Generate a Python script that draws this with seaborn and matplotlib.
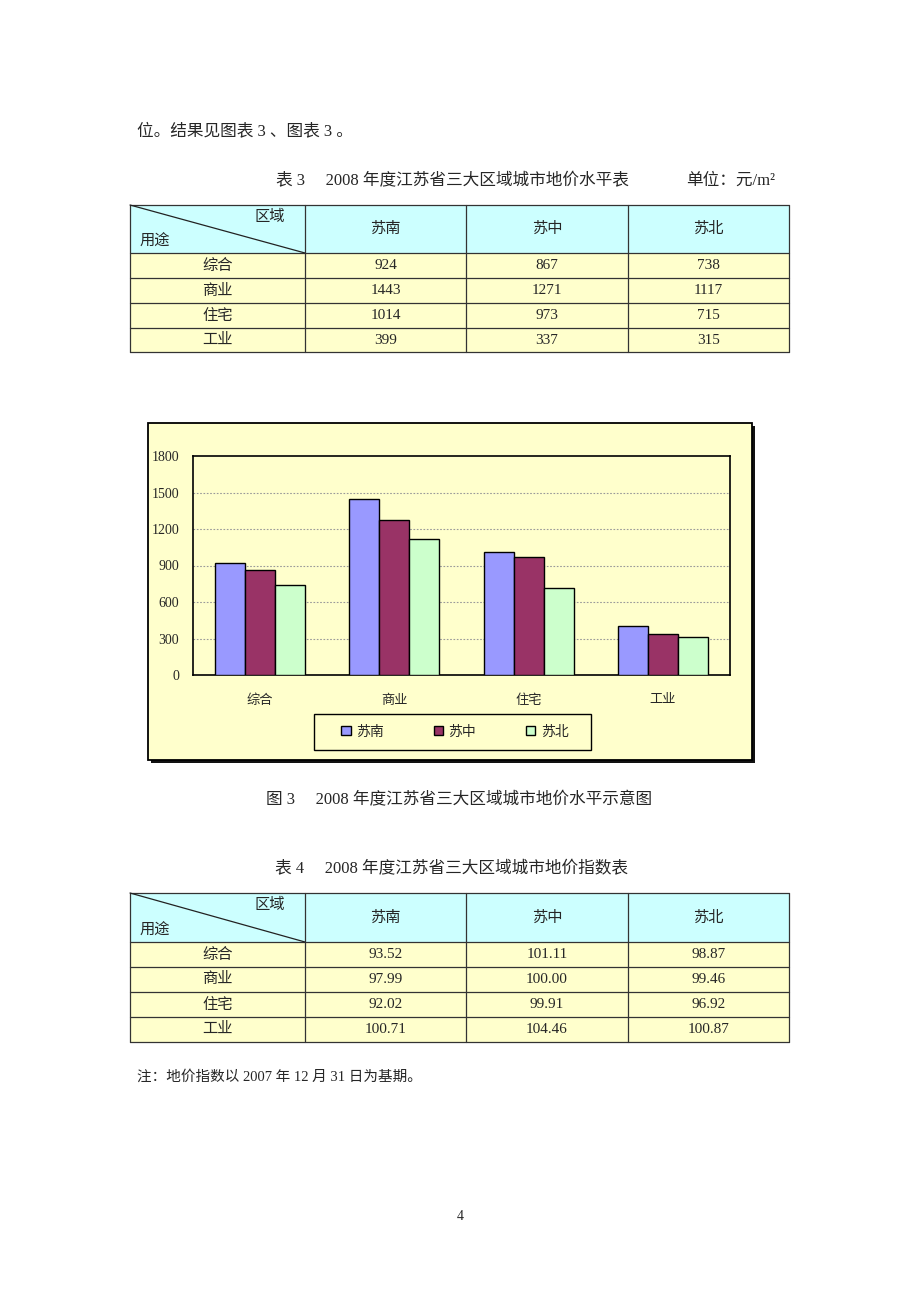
import matplotlib
matplotlib.use("Agg")
import matplotlib.pyplot as plt
from matplotlib.patches import Rectangle
from matplotlib.lines import Line2D
import seaborn as sns
import pandas as pd

# ---------------- data ----------------
categories = ["综合", "商业", "住宅", "工业"]
regions = ["苏南", "苏中", "苏北"]
price_sunan = [924, 1443, 1014, 399]
price_suzhong = [867, 1271, 973, 337]
price_subei = [738, 1117, 715, 315]
index_sunan = [93.52, 97.99, 92.02, 100.71]
index_suzhong = [101.11, 100.00, 99.91, 104.46]
index_subei = [98.87, 99.46, 96.92, 100.87]
y_ticks = [0, 300, 600, 900, 1200, 1500, 1800]
bar_colors = ["#9999FF", "#993366", "#CCFFCC"]

sns.set_style("white")
FAM = ["Liberation Serif", "Noto Sans CJK SC", "DejaVu Sans"]
plt.rcParams["font.family"] = FAM

W, H = 920, 1302
fig = plt.figure(figsize=(W / 100, H / 100), dpi=100)
fig.patch.set_facecolor("white")


def fx(x):
    return x / W


def fy(y):
    return 1 - y / H


def txt(x, y, s, size=11, ha="center", va="center", **kw):
    fig.text(fx(x), fy(y), s, fontsize=size, ha=ha, va=va, family=FAM, **kw)


def rect(x0, y0, x1, y1, fc, ec="none", lw=0.0, z=-1):
    r = Rectangle((fx(x0), fy(y1)), fx(x1) - fx(x0), fy(y0) - fy(y1),
                  transform=fig.transFigure, facecolor=fc, edgecolor=ec,
                  linewidth=lw, zorder=z)
    fig.add_artist(r)
    return r


def line(x0, y0, x1, y1, color="#333333", lw=0.9, z=1):
    fig.add_artist(Line2D([fx(x0), fx(x1)], [fy(y0), fy(y1)],
                          transform=fig.transFigure, color=color, lw=lw, zorder=z))


def draw_table(top, rows_y, values):
    cols = [130, 305, 466, 628, 789]
    hdr_bottom = rows_y[0]
    bottom = rows_y[-1]
    rect(cols[0], top, cols[-1], hdr_bottom, "#CCFFFF", z=0)
    rect(cols[0], hdr_bottom, cols[-1], bottom, "#FFFFCC", z=0)
    for x in cols:
        line(x, top, x, bottom)
    for y in [top] + rows_y:
        line(cols[0], y, cols[-1], y)
    line(cols[0], top, cols[1], hdr_bottom, color="#222222", lw=0.9)
    txt(270, top + 12, "区域")
    txt(155, hdr_bottom - 11, "用途")
    for i, r in enumerate(regions):
        txt((cols[i + 1] + cols[i + 2]) / 2, (top + hdr_bottom) / 2, r)
    prev = hdr_bottom
    for ri, cat in enumerate(categories):
        yc = (prev + rows_y[ri + 1]) / 2
        txt((cols[0] + cols[1]) / 2, yc, cat)
        for ci in range(3):
            txt((cols[ci + 1] + cols[ci + 2]) / 2, yc, values[ci][ri])
        prev = rows_y[ri + 1]


# ---------------- page text ----------------
txt(137, 131, "位。结果见图表 3 、图表 3 。", size=12, ha="left")
txt(276, 181, "表 3     2008 年度江苏省三大区域城市地价水平表", size=12, ha="left")
txt(686, 181, "单位：元/m²", size=12, ha="left")

price_vals = [[str(v) for v in price_sunan], [str(v) for v in price_suzhong],
              [str(v) for v in price_subei]]
draw_table(205, [253, 278, 303, 328, 352], price_vals)

txt(266, 800, "图 3     2008 年度江苏省三大区域城市地价水平示意图", size=12, ha="left")
txt(275, 869, "表 4     2008 年度江苏省三大区域城市地价指数表", size=12, ha="left")

index_vals = [[f"{v:.2f}" for v in index_sunan], [f"{v:.2f}" for v in index_suzhong],
              [f"{v:.2f}" for v in index_subei]]
draw_table(893, [942, 967, 992, 1017, 1042], index_vals)

txt(137, 1077, "注：地价指数以 2007 年 12 月 31 日为基期。", size=10.5, ha="left")
txt(460, 1217, "4", size=10)

# ---------------- chart frame ----------------
rect(151, 426, 755, 763, "#111111", z=-3)
rect(148, 423, 752, 760, "#FFFFCC", ec="black", lw=1.3, z=-2)
# legend box (below the axes layer so the legend entries draw on top)
rect(314, 714, 591, 750, "#FFFFCC", ec="black", lw=1.0, z=-1)

# ---------------- chart ----------------
df = pd.DataFrame({
    "用途": categories * 3,
    "区域": [r for r in regions for _ in categories],
    "地价": price_sunan + price_suzhong + price_subei,
})

ax = fig.add_axes([fx(193), fy(675), fx(730) - fx(193), fy(456) - fy(675)])
ax.set_facecolor("#FFFFCC")
sns.barplot(data=df, x="用途", y="地价", hue="区域",
            order=categories, hue_order=regions, palette=bar_colors,
            width=0.67, edgecolor="black", linewidth=1.0, saturation=1,
            ax=ax, zorder=3)

ax.set_ylim(0, 1800)
ax.set_xlim(-0.5, 3.5)
ax.set_yticks(y_ticks)
ax.set_yticklabels([str(v) for v in y_ticks])
ax.set_xlabel("")
ax.set_ylabel("")
for yv in y_ticks[1:-1]:
    ax.axhline(yv, color="#999999", lw=0.8, ls=(0, (1.5, 1.5)), zorder=1)
for s in ax.spines.values():
    s.set_visible(True)
    s.set_color("black")
    s.set_linewidth(1.2)
ax.tick_params(axis="y", length=0, pad=10, labelsize=10)
ax.tick_params(axis="x", which="major", length=0, pad=14, labelsize=9.5)
ax.set_xticks([0.5, 1.5, 2.5], minor=True)
ax.tick_params(axis="x", which="minor", direction="in", length=3.5, width=1, color="black")
for lab in ax.get_xticklabels() + ax.get_yticklabels():
    lab.set_family(FAM)

handles, labels = ax.get_legend_handles_labels()
if ax.get_legend() is not None:
    ax.get_legend().remove()
leg = ax.legend(handles, labels, loc="center",
                bbox_to_anchor=(fx(455), fy(732)),
                bbox_transform=fig.transFigure, ncol=3,
                frameon=False, handlelength=0.65, handleheight=0.65,
                handletextpad=0.4, borderpad=0.2, borderaxespad=0, columnspacing=3.6,
                prop={"family": FAM, "size": 10})

fig.savefig("out.png", dpi=100, facecolor="white")
